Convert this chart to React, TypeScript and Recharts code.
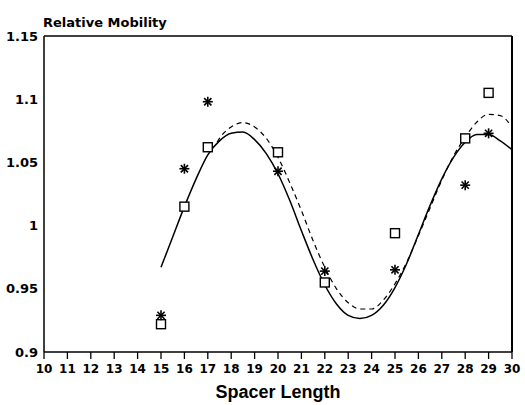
import React from 'react';
import { ComposedChart, Line, Scatter, XAxis, YAxis, ReferenceLine } from 'recharts';

const xTicks = [10, 11, 12, 13, 14, 15, 16, 17, 18, 19, 20, 21, 22, 23, 24, 25, 26, 27, 28, 29, 30];
const yTicks = [0.9, 0.95, 1, 1.05, 1.1, 1.15];

const spacer = [15, 16, 17, 20, 22, 25, 28, 29];
const squareValues = [0.922, 1.015, 1.062, 1.058, 0.955, 0.994, 1.069, 1.105];
const starValues = [0.929, 1.045, 1.098, 1.043, 0.964, 0.965, 1.032, 1.073];

const solidX = [15, 15.5, 16, 16.5, 17, 17.5, 18, 18.5, 19, 19.5, 20, 20.5, 21, 21.5, 22, 22.5, 23, 23.5, 24, 24.5, 25, 25.5, 26, 26.5, 27, 27.5, 28, 28.5, 29, 29.5, 30];
const solidY = [0.967, 0.991, 1.015, 1.037, 1.056, 1.067, 1.073, 1.074, 1.068, 1.057, 1.041, 1.02, 0.996, 0.973, 0.953, 0.938, 0.929, 0.9265, 0.929, 0.937, 0.951, 0.97, 0.993, 1.016, 1.037, 1.054, 1.066, 1.072, 1.072, 1.067, 1.06];

const dashedX = [17.4, 17.5, 18, 18.5, 19, 19.5, 20, 20.5, 21, 21.5, 22, 22.5, 23, 23.5, 24, 24.5, 25, 25.5, 26, 26.5, 27, 27.5, 28, 28.5, 29, 29.5, 30];
const dashedY = [1.066, 1.069, 1.078, 1.0815, 1.078, 1.069, 1.054, 1.034, 1.012, 0.988, 0.967, 0.95, 0.939, 0.934, 0.934, 0.941, 0.954, 0.971, 0.992, 1.014, 1.036, 1.055, 1.07, 1.082, 1.088, 1.087, 1.078];

const squares = spacer.map((x, i) => ({ x, y: squareValues[i] }));
const stars = spacer.map((x, i) => ({ x, y: starValues[i] }));
const solid = solidX.map((x, i) => ({ x, y: solidY[i] }));
const dashed = dashedX.map((x, i) => ({ x, y: dashedY[i] }));

const SquareShape = (props: any) => {
  const { cx, cy } = props;
  return <rect x={cx - 4.5} y={cy - 4.5} width={9} height={9} fill="#fff" stroke="#000" strokeWidth={1.4} />;
};

const StarShape = (props: any) => {
  const { cx, cy } = props;
  const r = 5;
  const d = 3.6;
  return (
    <g stroke="#000" strokeWidth={1.6}>
      <line x1={cx - r} y1={cy} x2={cx + r} y2={cy} />
      <line x1={cx} y1={cy - r} x2={cx} y2={cy + r} />
      <line x1={cx - d} y1={cy - d} x2={cx + d} y2={cy + d} />
      <line x1={cx - d} y1={cy + d} x2={cx + d} y2={cy - d} />
    </g>
  );
};

const tickFont = { fontFamily: 'DejaVu Sans', fontWeight: 'bold', fill: '#000' };

export default function App() {
  return (
    <div style={{ position: 'absolute', left: 0, top: 0, width: 525, height: 405, background: '#fff' }}>
      <div
        style={{
          position: 'absolute',
          left: 43,
          top: 16,
          fontFamily: 'DejaVu Sans',
          fontWeight: 'bold',
          fontSize: 13,
          lineHeight: '13px',
          color: '#000',
          whiteSpace: 'nowrap',
        }}
      >
        Relative Mobility
      </div>
      <ComposedChart width={525} height={405} margin={{ top: 36, right: 13, bottom: 0, left: 0 }}>
        <XAxis
          type="number"
          dataKey="x"
          domain={[10, 30]}
          ticks={xTicks}
          interval={0}
          allowDataOverflow
          height={53}
          stroke="#000"
          axisLine={{ stroke: '#000', strokeWidth: 1.5 }}
          tickLine={{ stroke: '#000', strokeWidth: 1.3 }}
          tickSize={7}
          tickMargin={5}
          tick={{ ...tickFont, fontSize: 12 }}
          label={{
            value: 'Spacer Length',
            position: 'insideBottom',
            offset: 7,
            style: { fontFamily: 'Liberation Sans', fontWeight: 'bold', fontSize: 18, fill: '#000' },
          }}
        />
        <YAxis
          type="number"
          domain={[0.9, 1.15]}
          ticks={yTicks}
          interval={0}
          allowDataOverflow
          width={44}
          axisLine={{ stroke: '#000', strokeWidth: 1.5 }}
          tickLine={false}
          tickSize={0}
          tickMargin={6}
          tick={{ ...tickFont, fontSize: 13 }}
        />
        <ReferenceLine y={1.15} stroke="#000" strokeWidth={1.5} />
        <ReferenceLine x={30} stroke="#000" strokeWidth={2} />
        <Line
          data={solid}
          dataKey="y"
          type="monotone"
          stroke="#000"
          strokeWidth={1.5}
          dot={false}
          isAnimationActive={false}
        />
        <Line
          data={dashed}
          dataKey="y"
          type="monotone"
          stroke="#000"
          strokeWidth={1.2}
          strokeDasharray="5 4"
          dot={false}
          isAnimationActive={false}
        />
        <Scatter data={squares} dataKey="y" shape={SquareShape} isAnimationActive={false} />
        <Scatter data={stars} dataKey="y" shape={StarShape} isAnimationActive={false} />
      </ComposedChart>
    </div>
  );
}
